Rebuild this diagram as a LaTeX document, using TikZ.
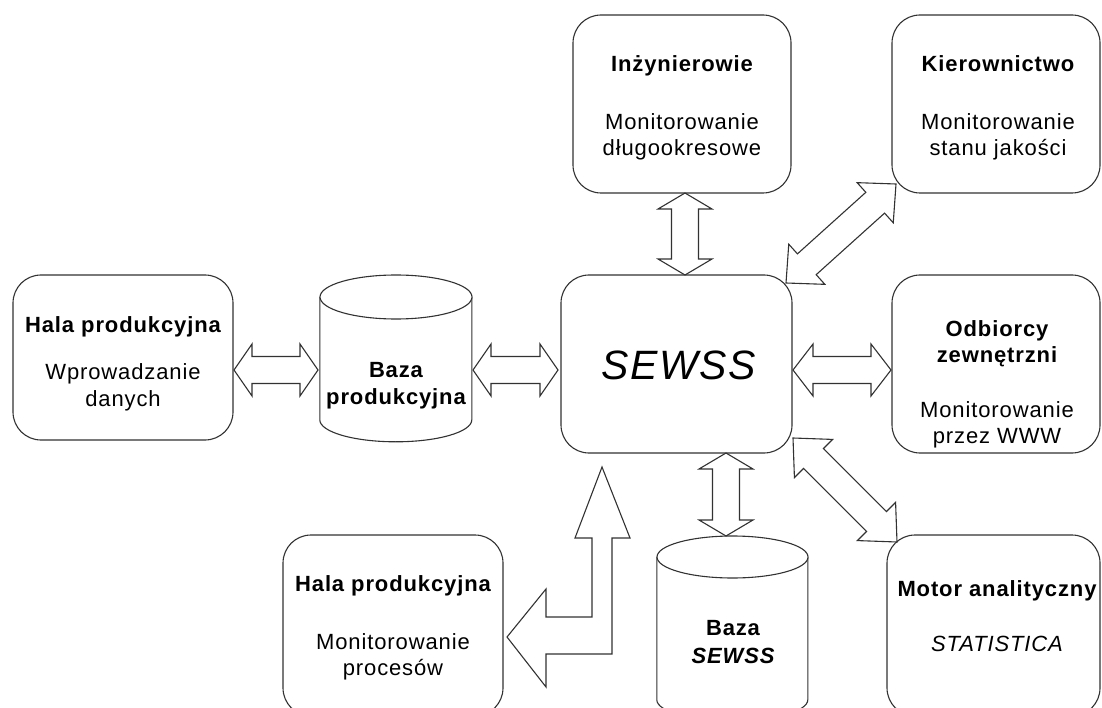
\documentclass[tikz,border=0pt]{standalone}
\usepackage{fontspec}
\setmainfont{Liberation Sans}[LetterSpace=4]
\usetikzlibrary{calc}
\definecolor{linec}{RGB}{50,50,50}

% double-headed block arrow: from, to, shaft half-width, head half-width, head length
\newcommand\dblarrow[5]{%
  \draw[blockarrow]
    (#1)
    -- ($(#1)!#5pt!(#2)!#4pt!90:(#2)$)
    -- ($(#1)!#5pt!(#2)!#3pt!90:(#2)$)
    -- ($(#2)!#5pt!(#1)!#3pt!-90:(#1)$)
    -- ($(#2)!#5pt!(#1)!#4pt!-90:(#1)$)
    -- (#2)
    -- ($(#2)!#5pt!(#1)!#4pt!90:(#1)$)
    -- ($(#2)!#5pt!(#1)!#3pt!90:(#1)$)
    -- ($(#1)!#5pt!(#2)!#3pt!-90:(#2)$)
    -- ($(#1)!#5pt!(#2)!#4pt!-90:(#2)$)
    -- cycle;}

\begin{document}
\begin{tikzpicture}[x=1pt,y=-1pt,
  box/.style={draw=linec, line width=1.1pt, rounded corners=28pt, fill=white, inner sep=0pt},
  cyl/.style={draw=linec, line width=1.1pt, fill=white},
  blockarrow/.style={draw=linec, line width=1.1pt, fill=white, line join=miter},
  title/.style={font=\fontsize{22}{26}\selectfont\bfseries, anchor=base, inner sep=0pt},
  sub/.style={font=\fontsize{22}{26}\selectfont, anchor=base, inner sep=0pt},
]
\useasboundingbox (0,0) rectangle (1102,708);
\clip (0,0) rectangle (1102,708);

% ---- rounded boxes
\node[box, minimum width=220pt, minimum height=165pt] (hala1) at (123,357.5) {};
\node[box, minimum width=218pt, minimum height=178pt] (inz)   at (682,104) {};
\node[box, minimum width=208pt, minimum height=178pt] (kier)  at (996,104) {};
\node[box, minimum width=231pt, minimum height=178pt] (sewss) at (676.5,364) {};
\node[box, minimum width=208pt, minimum height=178pt] (odb)   at (996,364) {};
\node[box, minimum width=213pt, minimum height=181pt] (motor) at (993.5,625.5) {};
\node[box, minimum width=220pt, minimum height=181pt] (hala2) at (393,625.5) {};

% ---- database cylinders
\node[minimum width=152pt, minimum height=167pt, inner sep=0pt] (bazap) at (396,358.5) {};
\draw[cyl] (bazap.north west) ++(0,22) -- ++(0,123)
  arc[start angle=180, end angle=360, x radius=76pt, y radius=22pt] -- ++(0,-123);
\draw[cyl] (396,297) ellipse[x radius=76pt, y radius=22pt];

\node[minimum width=151pt, minimum height=185pt, inner sep=0pt] (bazas) at (732.5,628.5) {};
\draw[cyl] (bazas.north west) ++(0,21) -- ++(0,143)
  arc[start angle=180, end angle=360, x radius=75.5pt, y radius=21pt] -- ++(0,-143);
\draw[cyl] (732.5,557) ellipse[x radius=75.5pt, y radius=21pt];

% ---- texts
\node[title] (t1) at (123,333) {Hala produkcyjna};
\node[sub]   (t1a) at (123,379) {Wprowadzanie};
\node[sub]   (t1b) at (123,406) {danych};

\node[title] (t2) at (396,377) {Baza};
\node[title] (t2a) at (396,404) {produkcyjna};

\node[font=\fontsize{41}{48}\selectfont\itshape, anchor=base, inner sep=0pt] (t3) at (679,379) {SEWSS};

\node[title] (t4) at (682,72) {Inżynierowie};
\node[sub]   (t4a) at (682,130) {Monitorowanie};
\node[sub]   (t4b) at (682,156) {długookresowe};

\node[title] (t5) at (998,72) {Kierownictwo};
\node[sub]   (t5a) at (998,130) {Monitorowanie};
\node[sub]   (t5b) at (998,156) {stanu jakości};

\node[title] (t6) at (997,337) {Odbiorcy};
\node[title] (t6a) at (997,362) {zewnętrzni};
\node[sub]   (t6b) at (997,417) {Monitorowanie};
\node[sub]   (t6c) at (997,443) {przez WWW};

\node[title] (t7) at (997,596) {Motor analityczny};
\node[sub, font=\fontsize{22}{26}\selectfont\itshape] (t7a) at (997,651) {STATISTICA};

\node[title] (t8) at (393,591) {Hala produkcyjna};
\node[sub]   (t8a) at (393,649) {Monitorowanie};
\node[sub]   (t8b) at (393,675) {procesów};

\node[title] (t9) at (733,635) {Baza};
\node[title, font=\fontsize{22}{26}\selectfont\bfseries\itshape] (t9a) at (733,663) {SEWSS};

% ---- arrow end points on the box borders
\coordinate (e1a) at (234,370);  \coordinate (e1b) at (318,370);
\coordinate (e2a) at (473,370);  \coordinate (e2b) at (558,370);
\coordinate (e3a) at (793,370);  \coordinate (e3b) at (891,370);
\coordinate (v1a) at (685,193);  \coordinate (v1b) at (685,275);
\coordinate (v2a) at (726,453);  \coordinate (v2b) at (726,536);
\coordinate (d1a) at (786,283);  \coordinate (d1b) at (896,184);
\coordinate (d2a) at (793,438);  \coordinate (d2b) at (897,542);

% ---- connectors
\dblarrow{e1a}{e1b}{13.5}{26}{18}
\dblarrow{e2a}{e2b}{13.5}{26}{18}
\dblarrow{e3a}{e3b}{13.5}{26}{20}
\dblarrow{v1a}{v1b}{13.5}{27}{16}
\dblarrow{v2a}{v2b}{13.5}{27}{16}
\dblarrow{d1a}{d1b}{14}{27}{28}
\dblarrow{d2a}{d2b}{14}{27}{29}

% bent arrow between SEWSS and the process monitoring hall
\draw[blockarrow] (602,467) -- (630,538) -- (612,538) -- (612,654) -- (546,654)
  -- (546,687) -- (507,637) -- (546,589) -- (546,617) -- (592,617) -- (592,538)
  -- (575,538) -- cycle;
\end{tikzpicture}
\end{document}
